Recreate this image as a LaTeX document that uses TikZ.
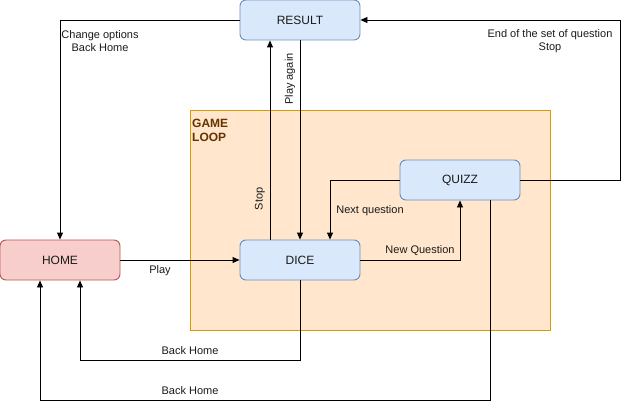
\documentclass[tikz,border=0pt]{standalone}
\usepackage{fontspec}
\setmainfont{Liberation Sans}
\usetikzlibrary{arrows.meta}
\definecolor{bluefill}{HTML}{DAE8FC}
\definecolor{bluedraw}{HTML}{6C8EBF}
\definecolor{redfill}{HTML}{F8CECC}
\definecolor{reddraw}{HTML}{B85450}
\definecolor{orfill}{HTML}{FFE6CC}
\definecolor{ordraw}{HTML}{D79B00}
\definecolor{loopText}{HTML}{663300}
\definecolor{txt}{HTML}{1A1A1A}
\tikzset{
  statebox/.style={rectangle, rounded corners=6pt, minimum width=120pt, minimum height=40pt, inner sep=0pt, line width=0.9pt, font=\fontsize{12}{14}\selectfont, text=txt},
  bluebox/.style={statebox, fill=bluefill, draw=bluedraw},
  redbox/.style={statebox, fill=redfill, draw=reddraw},
  conn/.style={line width=0.9pt, -{Triangle[length=7pt,width=6pt]}},
  lbl/.style={font=\fontsize{11}{13}\selectfont, text=txt, inner sep=0pt, align=center},
}
\begin{document}
\begin{tikzpicture}[x=1pt,y=-1pt]
\useasboundingbox (0,0) rectangle (629,409);
% game loop container
\node[draw=ordraw, fill=orfill, line width=0.9pt, minimum width=360pt, minimum height=220pt, inner sep=0pt] (loop) at (370,220) {};
\node[anchor=north west, font=\bfseries\fontsize{12}{14}\selectfont, text=loopText, align=left, inner sep=0pt] (looplbl) at (192,118.5) {GAME\\LOOP};
% states
\node[bluebox] (result) at (300,20) {RESULT};
\node[redbox] (home) at (60,260) {HOME};
\node[bluebox] (dice) at (300,260) {DICE};
\node[bluebox] (quizz) at (460,180) {QUIZZ};
% helper coordinates
\coordinate (c1) at (60,20);
\coordinate (c2) at (460,260);
\coordinate (c3) at (330,180);
\coordinate (c4a) at (620,180);
\coordinate (c4b) at (620,20);
\coordinate (c5a) at (300,360);
\coordinate (c5b) at (80,360);
\coordinate (c6a) at (490,400);
\coordinate (c6b) at (40,400);
% connectors
\draw[conn] (result.west) -- (c1) -- (home.north);
\draw[conn] (dice.north -| 270,0) -- (result.south -| 270,0);
\draw[conn] (result.south) -- (dice.north);
\draw[conn] (home.east) -- (dice.west);
\draw[conn] (dice.east) -- (c2) -- (quizz.south);
\draw[conn] (quizz.west) -- (c3) -- (dice.north -| c3);
\draw[conn] (quizz.east) -- (c4a) -- (c4b) -- (result.east);
\draw[conn] (dice.south) -- (c5a) -- (c5b) -- (home.south -| c5b);
\draw[conn] (quizz.south -| c6a) -- (c6a) -- (c6b) -- (home.south -| c6b);
% labels
\node[lbl] (l1) at (100,41.5) {Change options\\Back Home};
\node[lbl] (l2) at (550,41.5) {End of the set of question\\Stop};
\node[lbl, rotate=90] (l3) at (260,199) {Stop};
\node[lbl, rotate=90] (l4) at (290,79) {Play again};
\node[lbl] (l5) at (160,271) {Play};
\node[lbl] (l6) at (420,251) {New Question};
\node[lbl] (l7) at (370,211) {Next question};
\node[lbl] (l8) at (190,351) {Back Home};
\node[lbl] (l9) at (190,391) {Back Home};
\end{tikzpicture}
\end{document}
